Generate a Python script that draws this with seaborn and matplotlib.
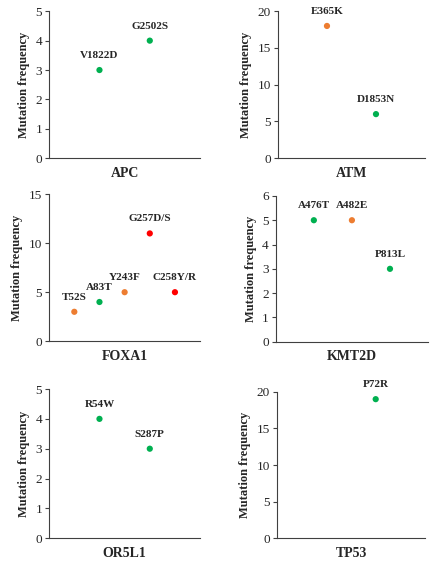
import matplotlib
matplotlib.use("Agg")
import matplotlib.pyplot as plt
import seaborn as sns
import pandas as pd
import numpy as np

# ---- data ----
apc_labels = ["V1822D", "G2502S"]
apc_values = [3, 4]
apc_class = ["green", "green"]

atm_labels = ["E365K", "D1853N"]
atm_values = [18, 6]
atm_class = ["orange", "green"]

foxa1_labels = ["T52S", "A83T", "Y243F", "G257D/S", "C258Y/R"]
foxa1_values = [3, 4, 5, 11, 5]
foxa1_class = ["orange", "green", "orange", "red", "red"]

kmt2d_labels = ["A476T", "A482E", "P813L"]
kmt2d_values = [5, 5, 3]
kmt2d_class = ["green", "orange", "green"]

or5l1_labels = ["R54W", "S287P"]
or5l1_values = [4, 3]
or5l1_class = ["green", "green"]

tp53_labels = ["P72R"]
tp53_values = [19]
tp53_class = ["green"]

genes = ["APC", "ATM", "FOXA1", "KMT2D", "OR5L1", "TP53"]
y_max = [5, 20, 15, 6, 5, 20]
y_step = [1, 5, 5, 1, 1, 5]

palette = {"green": "#00B050", "orange": "#ED7D31", "red": "#FF0000"}

sns.set_style("white")
plt.rcParams["font.family"] = ["Liberation Serif", "DejaVu Serif"]

fig = plt.figure(figsize=(4.35, 5.63), dpi=100)

positions = {
    "APC": [0.113, 0.719, 0.347, 0.261],
    "ATM": [0.639, 0.719, 0.338, 0.261],
    "FOXA1": [0.113, 0.394, 0.347, 0.261],
    "KMT2D": [0.634, 0.393, 0.350, 0.259],
    "OR5L1": [0.113, 0.044, 0.347, 0.265],
    "TP53": [0.637, 0.044, 0.340, 0.260],
}
xlims = {"APC": (0, 3), "ATM": (0, 3), "FOXA1": (0, 6), "KMT2D": (0, 4),
         "OR5L1": (0, 3), "TP53": (-1, 2)}

datasets = {
    "APC": (apc_labels, apc_values, apc_class),
    "ATM": (atm_labels, atm_values, atm_class),
    "FOXA1": (foxa1_labels, foxa1_values, foxa1_class),
    "KMT2D": (kmt2d_labels, kmt2d_values, kmt2d_class),
    "OR5L1": (or5l1_labels, or5l1_values, or5l1_class),
    "TP53": (tp53_labels, tp53_values, tp53_class),
}

for gi, gene in enumerate(genes):
    labels, values, cls = datasets[gene]
    df = pd.DataFrame({"mutation": labels, "freq": values, "cls": cls,
                       "x": np.arange(1, len(labels) + 1)})
    ax = fig.add_axes(positions[gene])
    sns.scatterplot(data=df, x="x", y="freq", hue="cls", palette=palette,
                    s=20, edgecolor="none", legend=False, ax=ax)
    for _, r in df.iterrows():
        ax.annotate(r["mutation"], (r["x"], r["freq"]), xytext=(0, 10.5),
                    textcoords="offset points", ha="center", va="center",
                    fontsize=8, fontweight="bold", annotation_clip=False)
    ax.set_xlim(*xlims[gene])
    ax.set_ylim(0, y_max[gi])
    ax.set_yticks(np.arange(0, y_max[gi] + 0.1, y_step[gi]))
    ax.set_xticks([])
    ax.set_xlabel(gene, fontsize=10, fontweight="bold", labelpad=6)
    ax.set_ylabel("Mutation frequency", fontsize=9, fontweight="bold", labelpad=4)
    ax.tick_params(axis="y", which="both", left=True, length=3, width=0.8,
                   color="#404040", labelsize=9.5, pad=2)
    for side in ["top", "right"]:
        ax.spines[side].set_visible(False)
    for side in ["left", "bottom"]:
        ax.spines[side].set_color("#404040")
        ax.spines[side].set_linewidth(0.8)
    ax.patch.set_alpha(0)

fig.savefig("out.png", dpi=100)
